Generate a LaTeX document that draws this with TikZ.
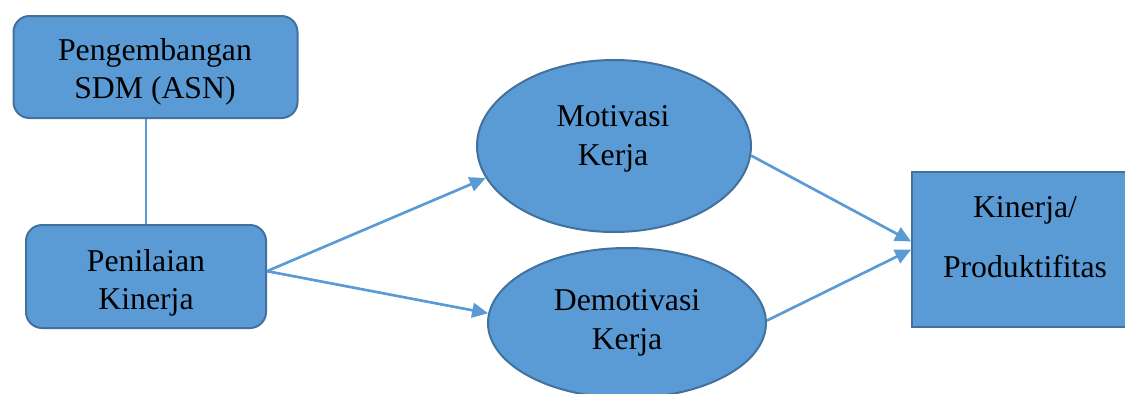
\documentclass[tikz,border=0pt]{standalone}
\usepackage{fontspec}
\setmainfont{Liberation Serif}
\usetikzlibrary{shapes.geometric,arrows.meta}
\definecolor{boxblue}{HTML}{5B9BD5}
\definecolor{boxline}{HTML}{41719C}

\begin{document}
\begin{tikzpicture}[x=0.75pt,y=-0.75pt,
	box/.style={draw=boxline,fill=boxblue,line width=1.5pt,inner sep=0pt},
	oval/.style={box,ellipse},
	txt/.style={align=center,font=\fontsize{23.8}{29}\selectfont},
	link/.style={draw=boxblue,line width=2pt,-{Triangle[length=12pt,width=11pt]}}]
	\useasboundingbox (0,0) rectangle (1125,393);
	\begin{scope}
		\clip (0,0) rectangle (1125,393);
		% shapes
		\node[box,rounded corners=12pt,minimum width=213pt,minimum height=76.5pt] (pg) at (155.5,67) {};
		\node[box,rounded corners=12pt,minimum width=180pt,minimum height=77.25pt] (pk) at (146,276.5) {};
		\node[oval,minimum width=205.5pt,minimum height=129pt] (mot) at (614,146) {};
		\node[oval,minimum width=208.5pt,minimum height=112.5pt] (dem) at (627,323) {};
		\node[box,minimum width=170pt,minimum height=116pt] (kin) at (1025.5,249.5) {};
		% texts
		\node[txt] (pgtext) at (155,72) {Pengembangan\\SDM (ASN)};
		\node[txt] (pktext) at (146,283) {Penilaian\\Kinerja};
		\node[txt] (mottext) at (613,139) {Motivasi\\Kerja};
		\node[txt] (demtext) at (627,323) {Demotivasi\\Kerja};
		\node[txt] (kintext) at (1025,237) {Kinerja/\\[16pt]Produktifitas};
		% connectors
		\draw[boxblue,line width=1pt] (pk.north) -- (pk.north |- pg.south);
		\path
		([yshift=4pt]pk.east) edge[link] (mot.194) edge[link] (dem.176)
		(mot.356) edge[link] ([yshift=6pt]kin.west)
		(dem.1) edge[link] (kin.west);
	\end{scope}
\end{tikzpicture}
\end{document}
